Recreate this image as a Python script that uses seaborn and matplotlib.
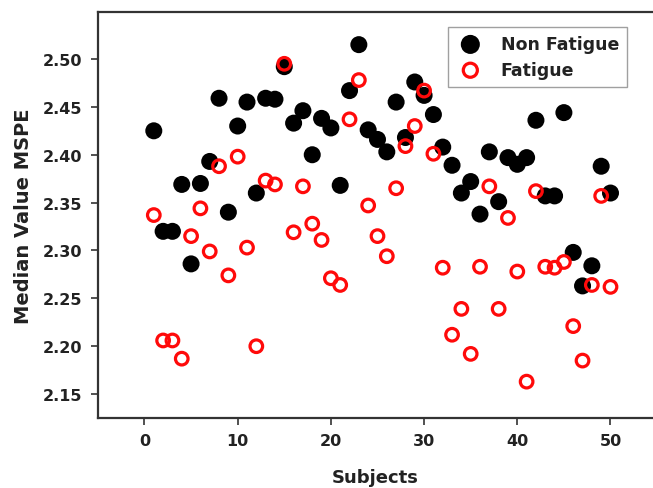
import numpy as np
import pandas as pd
import matplotlib
matplotlib.use("Agg")
import matplotlib.pyplot as plt
import seaborn as sns

subjects = list(range(1, 51))
non_fatigue = [2.425, 2.320, 2.320, 2.369, 2.286, 2.370, 2.393, 2.459, 2.340, 2.430,
               2.455, 2.360, 2.459, 2.458, 2.492, 2.433, 2.446, 2.400, 2.438, 2.428,
               2.368, 2.467, 2.515, 2.426, 2.416, 2.403, 2.455, 2.418, 2.476, 2.462,
               2.442, 2.408, 2.389, 2.360, 2.372, 2.338, 2.403, 2.351, 2.397, 2.390,
               2.397, 2.436, 2.357, 2.357, 2.444, 2.298, 2.263, 2.284, 2.388, 2.360]
fatigue = [2.337, 2.206, 2.206, 2.187, 2.315, 2.344, 2.299, 2.388, 2.274, 2.398,
           2.303, 2.200, 2.373, 2.369, 2.495, 2.319, 2.367, 2.328, 2.311, 2.271,
           2.264, 2.437, 2.478, 2.347, 2.315, 2.294, 2.365, 2.409, 2.430, 2.467,
           2.401, 2.282, 2.212, 2.239, 2.192, 2.283, 2.367, 2.239, 2.334, 2.278,
           2.163, 2.362, 2.283, 2.282, 2.288, 2.221, 2.185, 2.264, 2.357, 2.262]
y_ticks = [2.15, 2.20, 2.25, 2.30, 2.35, 2.40, 2.45, 2.50]
x_ticks = [0, 10, 20, 30, 40, 50]

df = pd.DataFrame({"Subjects": subjects, "Non Fatigue": non_fatigue, "Fatigue": fatigue})

sns.set_style("ticks")
plt.rcParams['font.family'] = ['DejaVu Sans']
plt.rcParams['font.weight'] = 'bold'

fig = plt.figure(figsize=(6.53, 4.89), dpi=100)
ax = fig.add_axes([0.1496, 0.1431, 0.8504, 0.8309])

sns.scatterplot(data=df, x="Subjects", y="Non Fatigue", ax=ax, color="black",
                s=150, edgecolor="none", label="Non Fatigue", zorder=3)
sns.scatterplot(data=df, x="Subjects", y="Fatigue", ax=ax, facecolor="none",
                edgecolor="#ff0a0a", linewidth=2.3, s=82, marker="o",
                label="Fatigue", zorder=4)

ax.set_xlim(-5.02, 54.56)
ax.set_ylim(2.125, 2.5494)
ax.set_xticks(x_ticks)
ax.set_yticks(y_ticks)
ax.set_yticklabels([f"{v:.2f}" for v in y_ticks])
ax.tick_params(axis='both', direction='out', length=5, width=1.2, labelsize=11.5,
               color='#333333', labelcolor='#222222', pad=6)
for lab in ax.get_xticklabels() + ax.get_yticklabels():
    lab.set_fontweight('bold')
ax.set_xlabel("Subjects", fontsize=13, fontweight='bold', labelpad=14, color='#222222')
ax.set_ylabel("Median Value MSPE", fontsize=14, fontweight='bold', labelpad=7, color='#222222')
for side in ['left', 'bottom', 'top']:
    ax.spines[side].set_linewidth(1.6)
    ax.spines[side].set_color('#333333')
ax.spines['right'].set_visible(False)

leg = ax.legend(loc='upper right', bbox_to_anchor=(0.953, 0.962), borderaxespad=0,
                frameon=True, fancybox=False, edgecolor='#888888',
                prop={'size': 12.5, 'weight': 'bold'}, handletextpad=0.9,
                borderpad=0.45, labelspacing=0.45, handlelength=1.7, markerscale=1.12)
leg.get_frame().set_linewidth(1.0)
for t in leg.get_texts():
    t.set_color('#222222')

fig.savefig("out.png", dpi=100)
